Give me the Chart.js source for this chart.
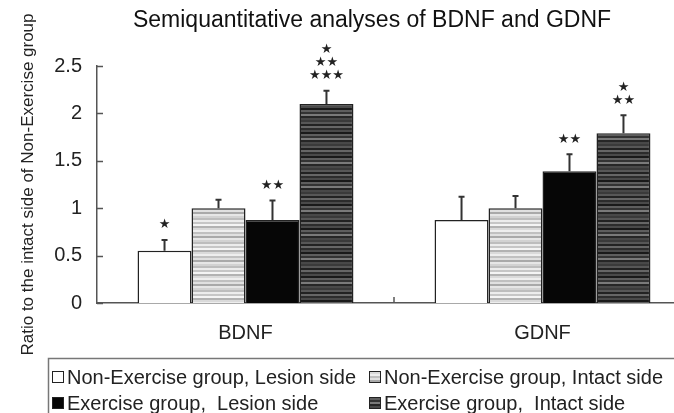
<!DOCTYPE html>
<html>
<head>
<meta charset="utf-8">
<script src="https://cdn.jsdelivr.net/npm/chart.js@4.4.1/dist/chart.umd.min.js"></script>
<style>
  html, body { margin: 0; padding: 0; background: #fff; overflow: hidden; }
  #wrap { width: 674px; height: 413px; overflow: hidden; }
</style>
</head>
<body>
<div id="wrap"><canvas id="chart" width="700" height="413"></canvas></div>
<script>
const categories = ["BDNF", "GDNF"];
const seriesNames = [
  "Non-Exercise group, Lesion side",
  "Non-Exercise group, Intact side",
  "Exercise group,  Lesion side",
  "Exercise group,  Intact side",
];

// means
const nonExLesion = [0.55, 0.875];
const nonExIntact = [1.0, 1.0];
const exLesion = [0.875, 1.39];
const exIntact = [2.1, 1.79];

// upper error bar length
const nonExLesionErr = [0.115, 0.245];
const nonExIntactErr = [0.09, 0.13];
const exLesionErr = [0.205, 0.18];
const exIntactErr = [0.14, 0.19];

// significance marks, one list of rows per category
const nonExLesionSig = [["*"], []];
const nonExIntactSig = [[], []];
const exLesionSig = [["**"], ["**"]];
const exIntactSig = [["*", "**", "***"], ["*", "**"]];

const yTicks = [0, 0.5, 1, 1.5, 2, 2.5];

const FONT = "'Liberation Sans', Arial, sans-serif";

function stripes(colors, rowH) {
  const c = document.createElement("canvas");
  c.width = 4;
  c.height = colors.length * rowH;
  const g = c.getContext("2d");
  colors.forEach((col, i) => {
    g.fillStyle = col;
    g.fillRect(0, i * rowH, 4, rowH);
  });
  return g.createPattern(c, "repeat");
}

const lightFill = stripes(
  ["#d2d2d2", "#bdbdbd", "#ececec", "#c6c6c6", "#f4f4f4", "#b2b2b2",
   "#dadada", "#eeeeee", "#c0c0c0", "#e0e0e0", "#a9a9a9", "#e6e6e6"], 2);
const darkFill = stripes(
  ["#3a3a3a", "#575757", "#222222", "#666666", "#2c2c2c", "#4a4a4a",
   "#1a1a1a", "#5e5e5e", "#333333", "#7a7a7a", "#262626", "#484848"], 2);

const fills = ["#ffffff", lightFill, "#060606", darkFill];
const errs = [nonExLesionErr, nonExIntactErr, exLesionErr, exIntactErr];
const sigs = [nonExLesionSig, nonExIntactSig, exLesionSig, exIntactSig];

const extras = {
  id: "extras",
  afterDatasetsDraw(chart) {
    const ctx = chart.ctx;
    const y = chart.scales.y;
    ctx.save();
    chart.data.datasets.forEach((ds, i) => {
      chart.getDatasetMeta(i).data.forEach((bar, j) => {
        const top = y.getPixelForValue(ds.data[j] + errs[i][j]);
        ctx.strokeStyle = "#333";
        ctx.lineWidth = 2;
        ctx.beginPath();
        ctx.moveTo(bar.x, bar.y);
        ctx.lineTo(bar.x, top);
        ctx.moveTo(bar.x - 3, top);
        ctx.lineTo(bar.x + 3, top);
        ctx.stroke();

        const rows = sigs[i][j];
        ctx.fillStyle = "#222";
        ctx.font = "13px 'DejaVu Sans'";
        ctx.textAlign = "center";
        ctx.textBaseline = "middle";
        rows.forEach((r, k) => {
          const yy = top - 15 - (rows.length - 1 - k) * 13;
          ctx.fillText(r.replace(/\*/g, "\u2605"), bar.x, yy);
        });
      });
    });
    ctx.restore();
  },
  afterDraw(chart) {
    const ctx = chart.ctx;
    const { left, bottom } = chart.chartArea;
    const x = chart.scales.x;
    const y = chart.scales.y;
    ctx.save();
    ctx.strokeStyle = "#555";
    ctx.lineWidth = 1.5;
    ctx.beginPath();
    y.ticks.forEach((t) => {
      const py = Math.round(y.getPixelForValue(t.value)) + 0.5;
      ctx.moveTo(left, py);
      ctx.lineTo(left + 6, py);
    });
    const mid = (x.getPixelForValue(0) + x.getPixelForValue(1)) / 2;
    ctx.moveTo(mid, bottom);
    ctx.lineTo(mid, bottom - 6);
    ctx.stroke();

    // title
    ctx.fillStyle = "#111";
    ctx.font = "23px " + FONT;
    ctx.textAlign = "center";
    ctx.textBaseline = "middle";
    ctx.fillText("Semiquantitative analyses of BDNF and GDNF", 372, 21);

    // legend box
    ctx.strokeStyle = "#777";
    ctx.lineWidth = 1.5;
    ctx.strokeRect(48.5, 358.5, 700, 80);
    const cols = [52, 369];
    const rowsY = [377, 403];
    ctx.font = "20px " + FONT;
    ctx.textAlign = "left";
    chart.data.datasets.forEach((ds, i) => {
      const sx = cols[i % 2];
      const sy = rowsY[Math.floor(i / 2)];
      ctx.fillStyle = ds.backgroundColor;
      ctx.fillRect(sx, sy - 6, 12, 12);
      ctx.strokeStyle = "#222";
      ctx.lineWidth = 1;
      ctx.strokeRect(sx + 0.5, sy - 5.5, 11, 11);
      ctx.fillStyle = "#222";
      ctx.fillText(ds.label, sx + 15, sy + 1);
    });
    ctx.restore();
  },
};

new Chart(document.getElementById("chart"), {
  type: "bar",
  data: {
    labels: categories,
    datasets: [nonExLesion, nonExIntact, exLesion, exIntact].map((vals, i) => ({
      label: seriesNames[i],
      data: vals,
      backgroundColor: fills[i],
      borderColor: "#222",
      borderWidth: 1.5,
      categoryPercentage: 0.727,
      barPercentage: 1.0,
    })),
  },
  options: {
    responsive: false,
    animation: false,
    events: [],
    layout: { padding: { top: 66, left: 0, right: 9, bottom: 50 } },
    plugins: {
      legend: { display: false },
      title: { display: false },
      tooltip: { enabled: false },
    },
    scales: {
      x: {
        grid: { display: false },
        border: { display: true, color: "#555", width: 1.5 },
        ticks: { color: "#222", font: { family: FONT, size: 20 }, padding: 10 },
        afterFit: (s) => { s.height = 60; },
      },
      y: {
        min: 0,
        max: 2.5,
        afterBuildTicks: (s) => { s.ticks = yTicks.map((v) => ({ value: v })); },
        grid: { display: false, drawTicks: false },
        border: { display: true, color: "#555", width: 1.5 },
        ticks: {
          color: "#222",
          font: { family: FONT, size: 20 },
          padding: 15,
          callback: (v) => String(v),
        },
        title: {
          display: true,
          text: "Ratio to the intact side of Non-Exercise group",
          color: "#222",
          font: { family: FONT, size: 17 },
          padding: { top: 18, bottom: 0 },
        },
        afterFit: (s) => { s.width = 97; },
      },
    },
  },
  plugins: [extras],
});
</script>
</body>
</html>
